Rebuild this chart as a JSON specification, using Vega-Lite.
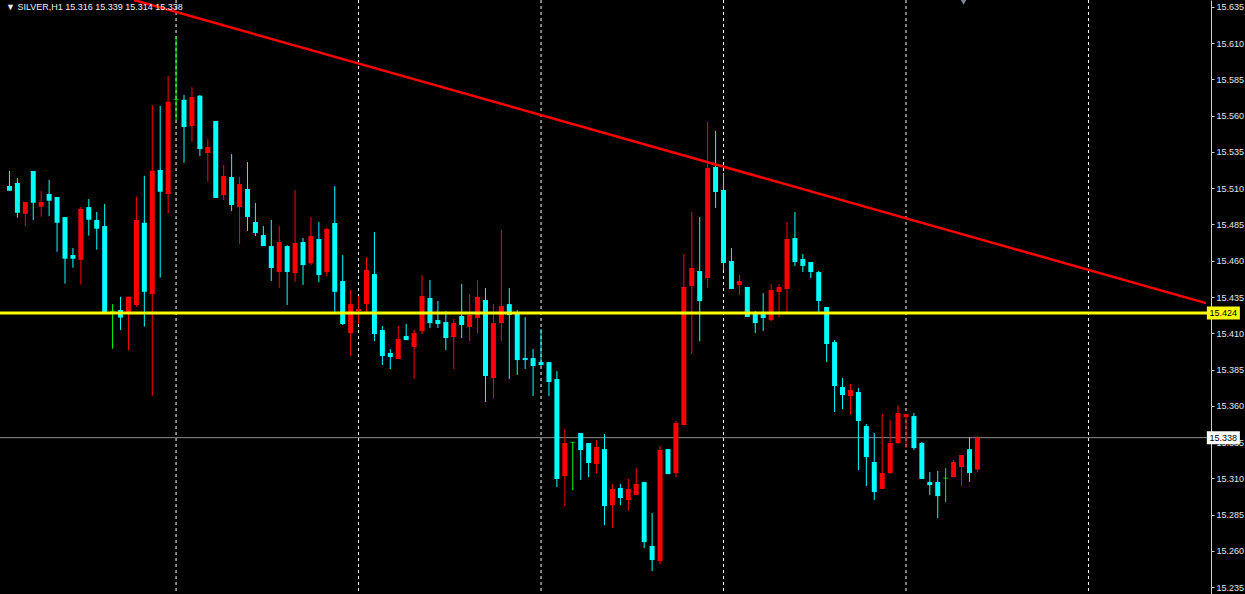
{
"$schema": "https://vega.github.io/schema/vega-lite/v6.json",
"width": 1211, "height": 594,
"autosize": {"type": "none"},
"padding": {"left": 0, "top": 0, "right": 34, "bottom": 0},
"background": "#000000",
"config": {"view": {"stroke": null}, "axisX": {"disable": true},
  "axisY": {"grid": false, "domainColor": "#d0d0d0", "domainWidth": 1, "tickColor": "#d0d0d0", "tickWidth": 1, "tickSize": 3,
            "labelPadding": 2, "labelColor": "#e6e6e6", "labelFont": "Liberation Sans", "labelFontSize": 9,
            "labelFlush": false, "labelOverlap": false, "labelBound": false}},
"datasets": {
"days": [{"bar": 21}, {"bar": 44}, {"bar": 67}, {"bar": 90}, {"bar": 113}, {"bar": 136}],
"trend": [{"bar": 15.69, "price": 15.6398}, {"bar": 150.81, "price": 15.4308}],
"levels": [{"level": 15.424, "name": "support"}, {"level": 15.338, "name": "bid"}],
"header": [{"text": "▼ SILVER,H1  15.316  15.339  15.314  15.338"}],
"marker": [{"m": 1}],
"bars": [
{"i":0,"open":15.5115,"high":15.5219,"low":15.5083,"close":15.5083},
{"i":1,"open":15.5136,"high":15.5170,"low":15.4897,"close":15.4931},
{"i":2,"open":15.4924,"high":15.5005,"low":15.4841,"close":15.5005},
{"i":3,"open":15.5219,"high":15.5219,"low":15.4881,"close":15.5000},
{"i":4,"open":15.4973,"high":15.5081,"low":15.4904,"close":15.5005},
{"i":5,"open":15.5060,"high":15.5157,"low":15.4908,"close":15.5014},
{"i":6,"open":15.5039,"high":15.5039,"low":15.4662,"close":15.4862},
{"i":7,"open":15.4901,"high":15.4901,"low":15.4442,"close":15.4614},
{"i":8,"open":15.4639,"high":15.4688,"low":15.4552,"close":15.4614},
{"i":9,"open":15.4607,"high":15.4970,"low":15.4435,"close":15.4957},
{"i":10,"open":15.4970,"high":15.5026,"low":15.4773,"close":15.4883},
{"i":11,"open":15.4881,"high":15.4936,"low":15.4676,"close":15.4821},
{"i":12,"open":15.4839,"high":15.4991,"low":15.4233,"close":15.4233},
{"i":13,"open":15.4251,"high":15.4301,"low":15.3993,"close":15.4251},
{"i":14,"open":15.4260,"high":15.4352,"low":15.4122,"close":15.4208},
{"i":15,"open":15.4241,"high":15.4352,"low":15.3984,"close":15.4352},
{"i":16,"open":15.4295,"high":15.5041,"low":15.4283,"close":15.4881},
{"i":17,"open":15.4862,"high":15.5186,"low":15.4145,"close":15.4386},
{"i":18,"open":15.4370,"high":15.5674,"low":15.3669,"close":15.5221},
{"i":19,"open":15.5226,"high":15.5667,"low":15.4483,"close":15.5076},
{"i":20,"open":15.5060,"high":15.5874,"low":15.4924,"close":15.5697},
{"i":21,"open":15.5713,"high":15.6141,"low":15.5570,"close":15.5713},
{"i":22,"open":15.5710,"high":15.5743,"low":15.5276,"close":15.5522},
{"i":23,"open":15.5529,"high":15.5798,"low":15.5419,"close":15.5729},
{"i":24,"open":15.5738,"high":15.5743,"low":15.5322,"close":15.5370},
{"i":25,"open":15.5343,"high":15.5439,"low":15.5145,"close":15.5384},
{"i":26,"open":15.5564,"high":15.5564,"low":15.5033,"close":15.5033},
{"i":27,"open":15.5053,"high":15.5260,"low":15.5019,"close":15.5184},
{"i":28,"open":15.5177,"high":15.5336,"low":15.4943,"close":15.4984},
{"i":29,"open":15.4970,"high":15.5177,"low":15.4715,"close":15.5129},
{"i":30,"open":15.5095,"high":15.5281,"low":15.4805,"close":15.4901},
{"i":31,"open":15.4867,"high":15.4998,"low":15.4770,"close":15.4791},
{"i":32,"open":15.4777,"high":15.4839,"low":15.4701,"close":15.4701},
{"i":33,"open":15.4701,"high":15.4881,"low":15.4460,"close":15.4550},
{"i":34,"open":15.4522,"high":15.4839,"low":15.4412,"close":15.4729},
{"i":35,"open":15.4701,"high":15.4708,"low":15.4295,"close":15.4522},
{"i":36,"open":15.4515,"high":15.5088,"low":15.4453,"close":15.4722},
{"i":37,"open":15.4729,"high":15.4757,"low":15.4433,"close":15.4570},
{"i":38,"open":15.4582,"high":15.4901,"low":15.4570,"close":15.4770},
{"i":39,"open":15.4750,"high":15.4867,"low":15.4453,"close":15.4501},
{"i":40,"open":15.4522,"high":15.4826,"low":15.4495,"close":15.4819},
{"i":41,"open":15.4860,"high":15.5115,"low":15.4239,"close":15.4386},
{"i":42,"open":15.4460,"high":15.4639,"low":15.4157,"close":15.4164},
{"i":43,"open":15.4101,"high":15.4398,"low":15.3943,"close":15.4301},
{"i":44,"open":15.4253,"high":15.4357,"low":15.4164,"close":15.4267},
{"i":45,"open":15.4301,"high":15.4626,"low":15.4246,"close":15.4536},
{"i":46,"open":15.4508,"high":15.4798,"low":15.4046,"close":15.4095},
{"i":47,"open":15.4122,"high":15.4150,"low":15.3881,"close":15.3943},
{"i":48,"open":15.3964,"high":15.3991,"low":15.3853,"close":15.3936},
{"i":49,"open":15.3922,"high":15.4150,"low":15.3922,"close":15.4060},
{"i":50,"open":15.4081,"high":15.4164,"low":15.4053,"close":15.4053},
{"i":51,"open":15.4005,"high":15.4122,"low":15.3784,"close":15.4101},
{"i":52,"open":15.4115,"high":15.4501,"low":15.4095,"close":15.4357},
{"i":53,"open":15.4343,"high":15.4467,"low":15.4136,"close":15.4170},
{"i":54,"open":15.4191,"high":15.4322,"low":15.4136,"close":15.4164},
{"i":55,"open":15.4177,"high":15.4253,"low":15.3984,"close":15.4067},
{"i":56,"open":15.4074,"high":15.4198,"low":15.3853,"close":15.4170},
{"i":57,"open":15.4219,"high":15.4439,"low":15.4067,"close":15.4157},
{"i":58,"open":15.4143,"high":15.4370,"low":15.4046,"close":15.4226},
{"i":59,"open":15.4205,"high":15.4467,"low":15.4101,"close":15.4350},
{"i":60,"open":15.4329,"high":15.4412,"low":15.3626,"close":15.3805},
{"i":61,"open":15.3791,"high":15.4301,"low":15.3653,"close":15.4170},
{"i":62,"open":15.4170,"high":15.4812,"low":15.4046,"close":15.4288},
{"i":63,"open":15.4301,"high":15.4412,"low":15.3784,"close":15.4226},
{"i":64,"open":15.4233,"high":15.4260,"low":15.3812,"close":15.3915},
{"i":65,"open":15.3929,"high":15.4212,"low":15.3853,"close":15.3915},
{"i":66,"open":15.3929,"high":15.3991,"low":15.3667,"close":15.3874},
{"i":67,"open":15.3901,"high":15.4129,"low":15.3874,"close":15.3881},
{"i":68,"open":15.3901,"high":15.3901,"low":15.3667,"close":15.3764},
{"i":69,"open":15.3784,"high":15.3839,"low":15.3039,"close":15.3095},
{"i":70,"open":15.3115,"high":15.3439,"low":15.2908,"close":15.3343},
{"i":71,"open":15.3348,"high":15.3350,"low":15.3019,"close":15.3348},
{"i":72,"open":15.3412,"high":15.3412,"low":15.3088,"close":15.3295},
{"i":73,"open":15.3343,"high":15.3343,"low":15.3108,"close":15.3205},
{"i":74,"open":15.3198,"high":15.3364,"low":15.3136,"close":15.3315},
{"i":75,"open":15.3301,"high":15.3405,"low":15.2777,"close":15.2908},
{"i":76,"open":15.2915,"high":15.3060,"low":15.2757,"close":15.3026},
{"i":77,"open":15.3033,"high":15.3060,"low":15.2915,"close":15.2964},
{"i":78,"open":15.2950,"high":15.3095,"low":15.2874,"close":15.3026},
{"i":79,"open":15.2984,"high":15.3170,"low":15.2984,"close":15.3060},
{"i":80,"open":15.3074,"high":15.3074,"low":15.2619,"close":15.2660},
{"i":81,"open":15.2633,"high":15.2860,"low":15.2460,"close":15.2536},
{"i":82,"open":15.2529,"high":15.3322,"low":15.2508,"close":15.3295},
{"i":83,"open":15.3301,"high":15.3301,"low":15.3129,"close":15.3129},
{"i":84,"open":15.3136,"high":15.3495,"low":15.3108,"close":15.3481},
{"i":85,"open":15.3467,"high":15.4646,"low":15.3467,"close":15.4419},
{"i":86,"open":15.4426,"high":15.4936,"low":15.3957,"close":15.4550},
{"i":87,"open":15.4529,"high":15.4901,"low":15.4046,"close":15.4322},
{"i":88,"open":15.4481,"high":15.5557,"low":15.4412,"close":15.5239},
{"i":89,"open":15.5246,"high":15.5495,"low":15.4964,"close":15.5074},
{"i":90,"open":15.5088,"high":15.5205,"low":15.4536,"close":15.4584},
{"i":91,"open":15.4598,"high":15.4688,"low":15.4405,"close":15.4405},
{"i":92,"open":15.4433,"high":15.4501,"low":15.4364,"close":15.4460},
{"i":93,"open":15.4419,"high":15.4419,"low":15.4212,"close":15.4212},
{"i":94,"open":15.4233,"high":15.4253,"low":15.4101,"close":15.4170},
{"i":95,"open":15.4233,"high":15.4377,"low":15.4115,"close":15.4205},
{"i":96,"open":15.4191,"high":15.4439,"low":15.4184,"close":15.4398},
{"i":97,"open":15.4384,"high":15.4439,"low":15.4212,"close":15.4419},
{"i":98,"open":15.4405,"high":15.4867,"low":15.4246,"close":15.4750},
{"i":99,"open":15.4757,"high":15.4936,"low":15.4564,"close":15.4591},
{"i":100,"open":15.4612,"high":15.4646,"low":15.4522,"close":15.4564},
{"i":101,"open":15.4591,"high":15.4591,"low":15.4481,"close":15.4522},
{"i":102,"open":15.4522,"high":15.4529,"low":15.4246,"close":15.4322},
{"i":103,"open":15.4281,"high":15.4281,"low":15.3901,"close":15.4026},
{"i":104,"open":15.4039,"high":15.4053,"low":15.3557,"close":15.3736},
{"i":105,"open":15.3729,"high":15.3791,"low":15.3577,"close":15.3674},
{"i":106,"open":15.3667,"high":15.3750,"low":15.3536,"close":15.3708},
{"i":107,"open":15.3695,"high":15.3722,"low":15.3157,"close":15.3495},
{"i":108,"open":15.3460,"high":15.3474,"low":15.3046,"close":15.3246},
{"i":109,"open":15.3212,"high":15.3412,"low":15.2950,"close":15.3005},
{"i":110,"open":15.3026,"high":15.3543,"low":15.3026,"close":15.3136},
{"i":111,"open":15.3136,"high":15.3501,"low":15.3129,"close":15.3343},
{"i":112,"open":15.3343,"high":15.3605,"low":15.3336,"close":15.3550},
{"i":113,"open":15.3522,"high":15.3543,"low":15.3308,"close":15.3543},
{"i":114,"open":15.3529,"high":15.3550,"low":15.3295,"close":15.3308},
{"i":115,"open":15.3343,"high":15.3350,"low":15.3095,"close":15.3095},
{"i":116,"open":15.3074,"high":15.3143,"low":15.2984,"close":15.3053},
{"i":117,"open":15.3074,"high":15.3150,"low":15.2826,"close":15.2977},
{"i":118,"open":15.3101,"high":15.3170,"low":15.2936,"close":15.3101},
{"i":119,"open":15.3108,"high":15.3226,"low":15.3108,"close":15.3212},
{"i":120,"open":15.3177,"high":15.3260,"low":15.3046,"close":15.3260},
{"i":121,"open":15.3301,"high":15.3384,"low":15.3074,"close":15.3136},
{"i":122,"open":15.316,"high":15.339,"low":15.314,"close":15.338}
]
},
"layer": [
{"data": {"name": "days"},
 "mark": {"type": "rule", "color": "#ffffff", "strokeDash": [3, 3], "strokeWidth": 1},
 "encoding": {"x": {"field": "bar", "type": "quantitative", "scale": {"domain": [-0.5625, 150.8125], "nice": false, "zero": false}, "axis": null}}},
{"data": {"name": "levels"},
 "transform": [{"filter": "datum.name == 'bid'"}],
 "mark": {"type": "rule", "color": "#8c8c8c", "strokeWidth": 1},
 "encoding": {"y": {"field": "level", "type": "quantitative", "scale": {"domain": [15.2302, 15.6398], "nice": false, "zero": false}, "title": null}}},
{"data": {"name": "bars"},
 "mark": {"type": "rule", "strokeWidth": 1},
 "encoding": {
  "x": {"field": "i", "type": "quantitative", "scale": {"domain": [-0.5625, 150.8125], "nice": false, "zero": false}, "axis": null},
  "y": {"field": "low", "type": "quantitative", "scale": {"domain": [15.2302, 15.6398], "nice": false, "zero": false}, "title": null},
  "y2": {"field": "high"},
  "color": {"condition": [{"test": "datum.close > datum.open", "value": "#ff0000"}, {"test": "datum.close < datum.open", "value": "#00ffff"}], "value": "#00ff00"}}},
{"data": {"name": "bars"},
 "mark": {"type": "bar", "width": 5},
 "encoding": {
  "x": {"field": "i", "type": "quantitative", "scale": {"domain": [-0.5625, 150.8125], "nice": false, "zero": false}, "axis": null},
  "y": {"field": "open", "type": "quantitative", "scale": {"domain": [15.2302, 15.6398], "nice": false, "zero": false}, "title": null,
        "axis": {"orient": "right", "title": null, "labelOverlap": false, "labelFlush": false, "labelBound": false, "tickCount": 40,
                 "values": [15.235, 15.26, 15.285, 15.31, 15.335, 15.36, 15.385, 15.41, 15.435, 15.46, 15.485, 15.51, 15.535, 15.56, 15.585, 15.61, 15.635],
                 "format": ".3f"}},
  "y2": {"field": "close"},
  "color": {"condition": [{"test": "datum.close > datum.open", "value": "#ff0000"}, {"test": "datum.close < datum.open", "value": "#00ffff"}], "value": "#00ff00"}}},
{"data": {"name": "bars"},
 "transform": [{"filter": "datum.open == datum.close"}],
 "mark": {"type": "tick", "orient": "horizontal", "size": 5, "thickness": 1, "color": "#00ff00"},
 "encoding": {
  "x": {"field": "i", "type": "quantitative", "scale": {"domain": [-0.5625, 150.8125], "nice": false, "zero": false}, "axis": null},
  "y": {"field": "open", "type": "quantitative", "scale": {"domain": [15.2302, 15.6398], "nice": false, "zero": false}, "title": null}}},
{"data": {"name": "levels"},
 "transform": [{"filter": "datum.name == 'support'"}],
 "mark": {"type": "rule", "color": "#ffff00", "strokeWidth": 3},
 "encoding": {"y": {"field": "level", "type": "quantitative", "scale": {"domain": [15.2302, 15.6398], "nice": false, "zero": false}, "title": null}}},
{"data": {"name": "trend"},
 "mark": {"type": "line", "color": "#ff0000", "strokeWidth": 2.5},
 "encoding": {
  "x": {"field": "bar", "type": "quantitative", "scale": {"domain": [-0.5625, 150.8125], "nice": false, "zero": false}, "axis": null},
  "y": {"field": "price", "type": "quantitative", "scale": {"domain": [15.2302, 15.6398], "nice": false, "zero": false}, "title": null}}},
{"data": {"name": "levels"},
 "mark": {"type": "tick", "orient": "horizontal", "size": 33, "thickness": 13, "opacity": 1},
 "encoding": {
  "x": {"datum": 153, "type": "quantitative", "scale": {"domain": [-0.5625, 150.8125], "nice": false, "zero": false}, "axis": null},
  "y": {"field": "level", "type": "quantitative", "scale": {"domain": [15.2302, 15.6398], "nice": false, "zero": false}, "title": null},
  "color": {"condition": {"test": "datum.name == 'support'", "value": "#ffff00"}, "value": "#ffffff"}}},
{"data": {"name": "levels"},
 "mark": {"type": "text", "font": "Liberation Sans", "fontSize": 9, "color": "#000000", "align": "center", "baseline": "middle", "dy": 0.5},
 "encoding": {
  "x": {"datum": 153, "type": "quantitative", "scale": {"domain": [-0.5625, 150.8125], "nice": false, "zero": false}, "axis": null},
  "y": {"field": "level", "type": "quantitative", "scale": {"domain": [15.2302, 15.6398], "nice": false, "zero": false}, "title": null},
  "text": {"field": "level", "type": "quantitative", "format": ".3f"}}},
{"data": {"name": "header"},
 "mark": {"type": "text", "font": "Liberation Sans", "fontSize": 9, "color": "#f0f0f0", "align": "left", "baseline": "middle"},
 "encoding": {
  "x": {"datum": -0.4375, "type": "quantitative", "scale": {"domain": [-0.5625, 150.8125], "nice": false, "zero": false}, "axis": null},
  "y": {"datum": 15.635, "type": "quantitative", "scale": {"domain": [15.2302, 15.6398], "nice": false, "zero": false}, "title": null},
  "text": {"field": "text", "type": "nominal"}}},
{"data": {"name": "marker"},
 "mark": {"type": "point", "shape": "triangle-down", "filled": true, "size": 60, "color": "#7a8796", "opacity": 1},
 "encoding": {
  "x": {"datum": 120.25, "type": "quantitative", "scale": {"domain": [-0.5625, 150.8125], "nice": false, "zero": false}, "axis": null},
  "y": {"datum": 15.6388, "type": "quantitative", "scale": {"domain": [15.2302, 15.6398], "nice": false, "zero": false}, "title": null}}}
]
}
